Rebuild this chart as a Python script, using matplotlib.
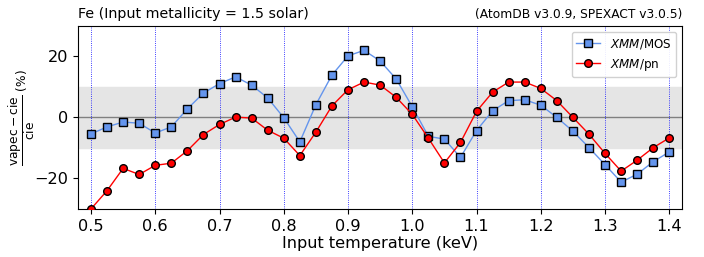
import matplotlib
matplotlib.use("Agg")
import matplotlib.pyplot as plt
import numpy as np

temps = [0.5, 0.525, 0.55, 0.575, 0.6, 0.625, 0.65, 0.675, 0.7, 0.725,
         0.75, 0.775, 0.8, 0.825, 0.85, 0.875, 0.9, 0.925, 0.95, 0.975,
         1.0, 1.025, 1.05, 1.075, 1.1, 1.125, 1.15, 1.175, 1.2, 1.225,
         1.25, 1.275, 1.3, 1.325, 1.35, 1.375, 1.4]

mos = [-5.4, -3.1, -1.5, -1.9, -5.1, -3.1, 2.8, 8.0, 11.1, 13.3,
       10.6, 6.4, -0.1, -8.0, 4.2, 13.9, 20.2, 22.0, 18.5, 12.6,
       3.5, -6.2, -7.1, -13.1, -4.3, 2.2, 5.5, 5.8, 4.0, 0.0,
       -4.5, -9.9, -15.5, -21.2, -18.6, -14.5, -11.3]

pn = [-30.0, -24.0, -16.7, -18.7, -15.7, -15.0, -10.9, -5.6, -2.3, 0.1,
      -0.2, -4.2, -6.8, -12.5, -4.8, 3.8, 9.1, 11.6, 10.6, 6.6,
      1.0, -6.8, -14.9, -8.2, 2.0, 8.3, 11.6, 11.6, 9.5, 5.5,
      0.0, -5.5, -11.8, -17.6, -14.0, -9.9, -6.7]

grid_x = [0.5, 0.6, 0.7, 0.8, 0.9, 1.0, 1.1, 1.2, 1.3, 1.4]

fig, ax = plt.subplots(figsize=(7.04, 2.57), dpi=100)
fig.subplots_adjust(left=0.111, right=0.969, top=0.899, bottom=0.187)

ax.axhspan(-10, 10, color="#e5e5e5", zorder=0)
ax.axhline(0, color="gray", lw=1, zorder=1)
for gx in grid_x:
    ax.axvline(gx, color="blue", ls=":", lw=0.6, zorder=1)

ax.plot(temps, mos, "-s", color="cornflowerblue", mfc="cornflowerblue",
        mec="black", ms=5.5, lw=1, label=r"$\it{XMM}$/MOS", zorder=3)
ax.plot(temps, pn, "-o", color="red", mfc="red",
        mec="black", ms=5.5, lw=1, label=r"$\it{XMM}$/pn", zorder=3)

ax.set_xlim(0.48, 1.42)
ax.set_ylim(-30, 30)
ax.set_xticks(np.round(np.arange(0.5, 1.41, 0.1), 1))
ax.set_yticks([-20, 0, 20])
ax.tick_params(labelsize=11.6)

ax.set_xlabel("Input temperature (keV)", fontsize=11.6, labelpad=2)
ax.set_ylabel(r"$\dfrac{\rm vapec - cie}{\rm cie}$ (%)", fontsize=8.8)
ax.yaxis.set_label_coords(-0.068, 0.5)
ax.set_title("Fe (Input metallicity = 1.5 solar)", loc="left", fontsize=10.3)
ax.set_title("(AtomDB v3.0.9, SPEXACT v3.0.5)", loc="right", fontsize=8.8)

ax.legend(loc="upper right", fontsize=8.6, framealpha=0.9)

fig.savefig("out.png", dpi=100)
